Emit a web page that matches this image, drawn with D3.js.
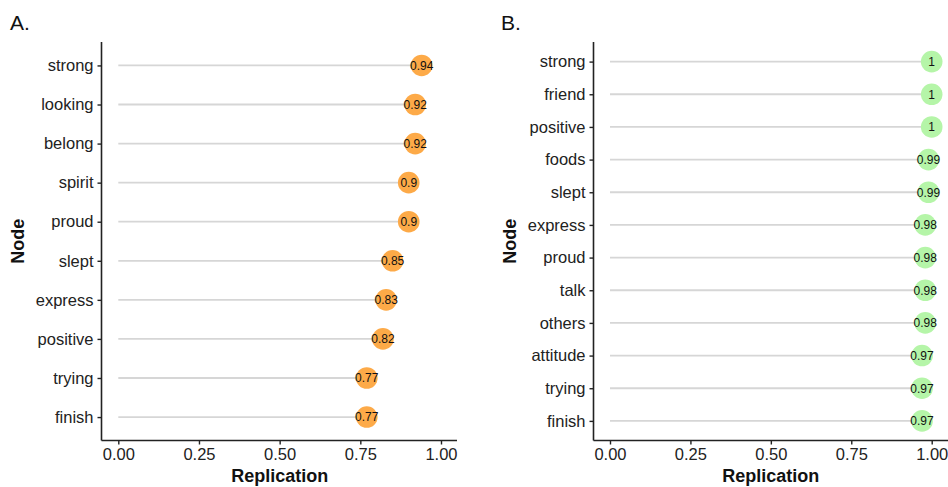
<!DOCTYPE html>
<html><head><meta charset="utf-8">
<script src="https://cdn.jsdelivr.net/npm/d3@7"></script>
<style>body{margin:0;background:#fff}svg{display:block}text{font-family:"Liberation Sans",Arial,sans-serif}</style>
</head><body>
<svg id="c" width="948" height="487"></svg>
<script>
const nodesA = ["strong","looking","belong","spirit","proud","slept","express","positive","trying","finish"];
const valuesA = [0.94,0.92,0.92,0.90,0.90,0.85,0.83,0.82,0.77,0.77];
const labelsA = ["0.94","0.92","0.92","0.9","0.9","0.85","0.83","0.82","0.77","0.77"];
const nodesB = ["strong","friend","positive","foods","slept","express","proud","talk","others","attitude","trying","finish"];
const valuesB = [1,1,1,0.99,0.99,0.98,0.98,0.98,0.98,0.97,0.97,0.97];
const labelsB = ["1","1","1","0.99","0.99","0.98","0.98","0.98","0.98","0.97","0.97","0.97"];
const xTicks = [0,0.25,0.5,0.75,1];
const xTickLabels = ["0.00","0.25","0.50","0.75","1.00"];

const svg = d3.select("#c");

function panel(opt){
  const {nodes, values, labels, title, axisX, x0, x1, axisRight, color, titleX} = opt;
  const top = 42, bottom = 440.5;
  const n = nodes.length;
  const step = (bottom - top) / (n - 1 + 1.2);
  const y = d3.scalePoint().domain(nodes).range([top + 0.6*step, bottom - 0.6*step]);
  const x = d3.scaleLinear().domain([0,1]).range([x0, x1]);
  const g = svg.append("g");

  svg.append("text").attr("x", titleX).attr("y", 30).attr("font-size", 21)
    .attr("font-family", "'Open Sans',sans-serif").attr("fill", "#111").text(title);

  g.selectAll("line.seg").data(nodes).join("line").attr("class","seg")
    .attr("x1", x(0)).attr("x2", (d,i)=>x(values[i]))
    .attr("y1", d=>y(d)).attr("y2", d=>y(d))
    .attr("stroke", "#d6d6d6").attr("stroke-width", 1.8);
  g.selectAll("circle").data(nodes).join("circle")
    .attr("cx", (d,i)=>x(values[i])).attr("cy", d=>y(d)).attr("r", 10.8)
    .attr("fill", color);
  g.selectAll("text.lab").data(nodes).join("text").attr("class","lab")
    .attr("x", (d,i)=>x(values[i])).attr("y", d=>y(d)).attr("dy", "0.36em")
    .attr("text-anchor","middle").attr("font-size", 12).attr("fill","#111")
    .text((d,i)=>labels[i]);

  const ya = d3.axisLeft(y).tickSize(4).tickPadding(4);
  const yg = g.append("g").attr("transform", `translate(${axisX},0)`).call(ya);
  yg.select(".domain").attr("d", `M0,${top}V${bottom}`).attr("stroke","#222").attr("stroke-width",1.6);
  yg.selectAll(".tick line").attr("stroke","#222").attr("stroke-width",1.4);
  yg.selectAll(".tick text").attr("font-size", 16.5).attr("fill","#222")
    .attr("font-family", "'Liberation Sans',Arial,sans-serif");

  const xa = d3.axisBottom(x).tickValues(xTicks).tickFormat((d,i)=>xTickLabels[i]).tickSize(4).tickPadding(4);
  const xg = g.append("g").attr("transform", `translate(0,${bottom})`).call(xa);
  xg.select(".domain").attr("d", `M${axisX},0H${axisRight}`).attr("stroke","#222").attr("stroke-width",1.6);
  xg.selectAll(".tick line").attr("stroke","#222").attr("stroke-width",1.4);
  xg.selectAll(".tick text").attr("font-size", 16.5).attr("fill","#222")
    .attr("font-family", "'Liberation Sans',Arial,sans-serif");

  svg.append("text").attr("x", (x0+x1)/2).attr("y", 482).attr("text-anchor","middle")
    .attr("font-size", 18).attr("font-weight","bold").attr("fill","#111").text("Replication");
  svg.append("text").attr("transform", `translate(${axisX-78},${(top+bottom)/2}) rotate(-90)`)
    .attr("text-anchor","middle").attr("font-size", 18).attr("font-weight","bold").attr("fill","#111").text("Node");
}

panel({nodes:nodesA, values:valuesA, labels:labelsA, title:"A.", titleX:10,
  axisX:101.5, x0:118.3, x1:441, axisRight:457, color:"#FDAA48"});
panel({nodes:nodesB, values:valuesB, labels:labelsB, title:"B.", titleX:501,
  axisX:593.5, x0:610, x1:931.7, axisRight:948, color:"#B5F5A8"});
</script>
</body></html>
